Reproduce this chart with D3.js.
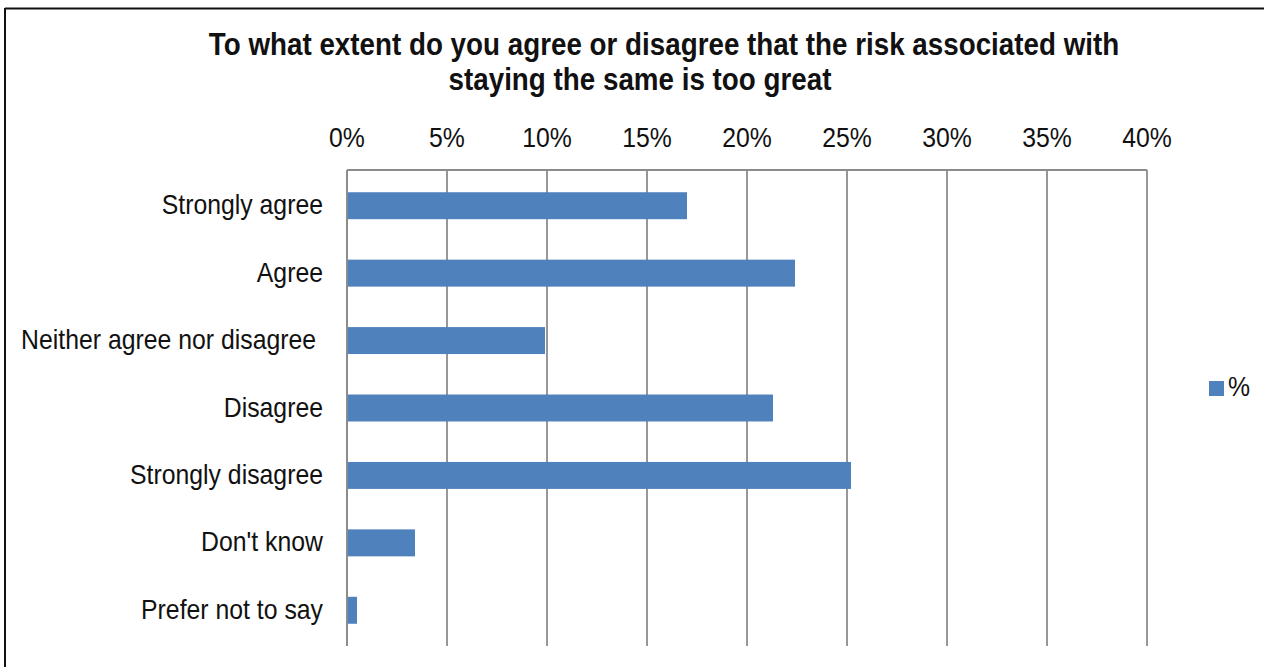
<!DOCTYPE html>
<html>
<head>
<meta charset="utf-8">
<script src="https://cdn.jsdelivr.net/npm/d3@7"></script>
<style>
  html, body { margin: 0; padding: 0; background: #fff; }
  svg { display: block; }
  text { font-family: "Liberation Sans", Arial, sans-serif; fill: #111; }
</style>
</head>
<body>
<svg id="chart" width="1264" height="667"></svg>
<script>
// Survey responses (share of respondents)
const categories = [
  "Strongly agree",
  "Agree",
  "Neither agree nor disagree ",
  "Disagree",
  "Strongly disagree",
  "Don't know",
  "Prefer not to say"
];
const values = [0.170, 0.224, 0.099, 0.213, 0.252, 0.034, 0.005];
const tickValues = [0, 0.05, 0.10, 0.15, 0.20, 0.25, 0.30, 0.35, 0.40];
const titleLines = [
  "To what extent do you agree or disagree that the risk associated with",
  "staying the same is too great"
];
const seriesName = "%";

const svg = d3.select("#chart");
const W = 1264, H = 667;
const barColor = "#4F81BD";
const gridColor = "#8C8C8C";
const stretch = 1.12; // vertical text stretch

// frame (top and left edges)
svg.append("line").attr("x1", 5).attr("x2", W).attr("y1", 8.5).attr("y2", 8.5)
  .attr("stroke", "#111").attr("stroke-width", 2);
svg.append("line").attr("x1", 5).attr("x2", 5).attr("y1", 8).attr("y2", H)
  .attr("stroke", "#111").attr("stroke-width", 2);

const plot = { left: 347, right: 1147, top: 170, bottom: 646 };

const x = d3.scaleLinear().domain([0, 0.4]).range([plot.left, plot.right]);
const y = d3.scaleBand().domain(categories)
  .range([172, 644]).paddingInner(0.6).paddingOuter(0.3).align(0.5);

// helper: text with a vertical stretch
function stretchedText(sel, px, py) {
  return sel.attr("transform", `translate(${px},${py}) scale(1,${stretch})`);
}

// title
const titleG = svg.append("g");
const titleCenters = [664, 640];
const titleBaselines = [55, 90];
titleLines.forEach((t, i) => {
  stretchedText(titleG.append("text"), titleCenters[i], titleBaselines[i])
    .attr("text-anchor", "middle")
    .attr("font-size", 27.8)
    .attr("font-weight", "bold")
    .text(t);
});

// vertical gridlines
svg.append("g").selectAll("line").data(tickValues).join("line")
  .attr("x1", d => x(d)).attr("x2", d => x(d))
  .attr("y1", plot.top).attr("y2", plot.bottom)
  .attr("stroke", gridColor).attr("stroke-width", 1.8);

// top edge of the plot area
svg.append("line")
  .attr("x1", x(0)).attr("x2", x(0.4))
  .attr("y1", plot.top).attr("y2", plot.top)
  .attr("stroke", gridColor).attr("stroke-width", 1.8);

// top axis labels
const xAxis = d3.axisTop(x).tickValues(tickValues).tickFormat(d3.format(".0%")).tickSize(0);
const axG = svg.append("g").attr("transform", `translate(0,147)`).call(xAxis);
axG.select(".domain").remove();
axG.selectAll("text")
  .attr("y", 0).attr("dy", 0)
  .attr("font-size", 24.8)
  .attr("font-family", "Liberation Sans, Arial, sans-serif")
  .attr("fill", "#111")
  .attr("transform", `scale(1,${stretch})`);
axG.selectAll(".tick").each(function(d) {
  d3.select(this).attr("transform", `translate(${x(d)},0)`);
});

// bars
svg.append("g").selectAll("rect").data(values).join("rect")
  .attr("x", x(0))
  .attr("y", (d, i) => y(categories[i]))
  .attr("width", d => x(d) - x(0))
  .attr("height", y.bandwidth())
  .attr("fill", barColor);

// left axis line
svg.append("line")
  .attr("x1", x(0)).attr("x2", x(0))
  .attr("y1", plot.top).attr("y2", plot.bottom)
  .attr("stroke", gridColor).attr("stroke-width", 1.8);

// category labels
const labG = svg.append("g");
categories.forEach(c => {
  stretchedText(labG.append("text"), 323, y(c) + y.bandwidth() / 2 + 8.5)
    .attr("text-anchor", "end")
    .attr("font-size", 24.8)
    .attr("xml:space", "preserve")
    .style("white-space", "pre")
    .text(c);
});

// legend
const legG = svg.append("g");
legG.append("rect").attr("x", 1209).attr("y", 381).attr("width", 15).attr("height", 15)
  .attr("fill", barColor);
stretchedText(legG.append("text"), 1228, 396)
  .attr("font-size", 24.8)
  .text(seriesName);
</script>
</body>
</html>
